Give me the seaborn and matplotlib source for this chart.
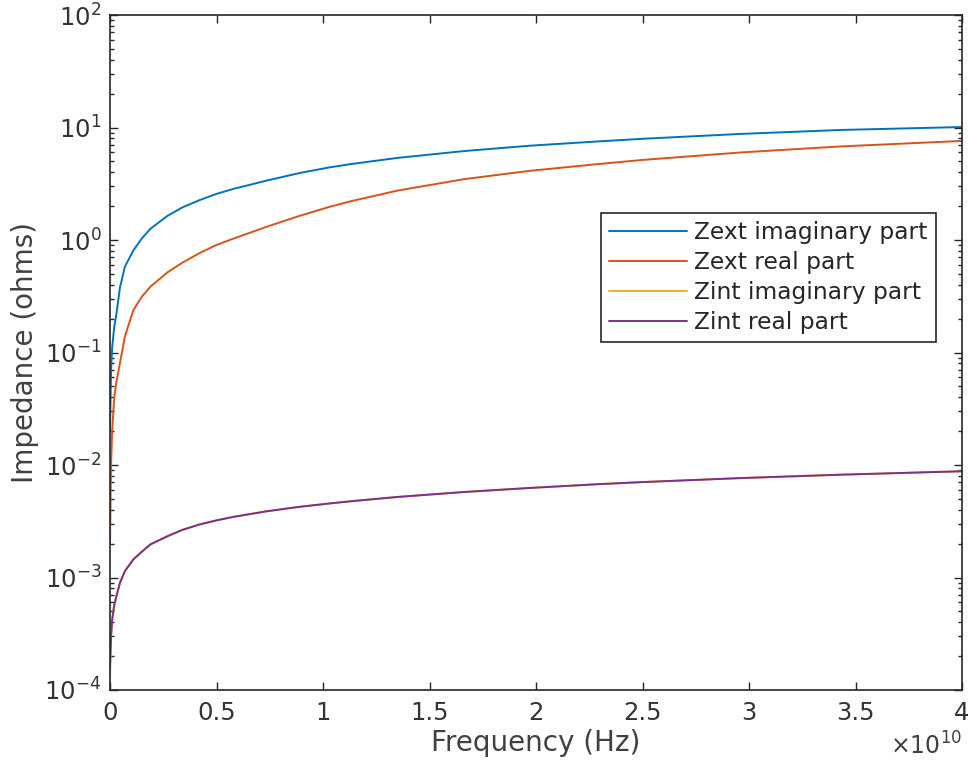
import matplotlib
matplotlib.use("Agg")
import matplotlib.pyplot as plt
import seaborn as sns
import numpy as np
from matplotlib.ticker import FixedLocator, NullFormatter, FuncFormatter

# frequency in units of 1e10 Hz
freq = np.array([0, 0.005, 0.01, 0.02, 0.03, 0.047, 0.07, 0.11, 0.15, 0.19,
                 0.27, 0.34, 0.42, 0.5, 0.58, 0.74, 0.89, 1.03, 1.13, 1.35,
                 1.66, 1.97, 2.29, 2.5, 2.96, 3.43, 4.0])

zext_imag = [0.02, 0.07, 0.11, 0.17, 0.22, 0.38, 0.58, 0.81, 1.035, 1.26,
             1.64, 1.95, 2.26, 2.57, 2.85, 3.39, 3.94, 4.42, 4.73, 5.37,
             6.17, 6.89, 7.52, 7.94, 8.77, 9.51, 10.1]

zext_real = [0.002, 0.01, 0.02, 0.04, 0.055, 0.081, 0.139, 0.239, 0.314, 0.385,
             0.516, 0.63, 0.764, 0.904, 1.03, 1.32, 1.64, 1.97, 2.21, 2.75,
             3.47, 4.12, 4.73, 5.15, 6.0, 6.79, 7.6]

zint_imag = [1.3e-4, 3.0e-4, 4.2e-4, 5.7e-4, 6.8e-4, 9.0e-4, 1.14e-3, 1.45e-3, 1.7e-3, 1.97e-3,
             2.33e-3, 2.65e-3, 2.96e-3, 3.22e-3, 3.46e-3, 3.89e-3, 4.25e-3, 4.55e-3, 4.76e-3, 5.2e-3,
             5.75e-3, 6.25e-3, 6.75e-3, 7.05e-3, 7.65e-3, 8.2e-3, 8.8e-3]

zint_real = [1.6e-4, 3.0e-4, 4.2e-4, 5.7e-4, 6.8e-4, 9.0e-4, 1.14e-3, 1.45e-3, 1.7e-3, 1.97e-3,
             2.33e-3, 2.65e-3, 2.96e-3, 3.22e-3, 3.46e-3, 3.89e-3, 4.25e-3, 4.55e-3, 4.76e-3, 5.2e-3,
             5.75e-3, 6.25e-3, 6.75e-3, 7.05e-3, 7.65e-3, 8.2e-3, 8.8e-3]

labels = ["Zext imaginary part", "Zext real part", "Zint imaginary part", "Zint real part"]
colors = ["#0072BD", "#D95319", "#EDB120", "#7E2F8E"]
decades = [-4, -3, -2, -1, 0, 1, 2]

sns.set_style("ticks")
plt.rcParams["font.family"] = ["DejaVu Sans"]

fig = plt.figure(figsize=(9.7, 7.7), dpi=100)
ax = fig.add_axes([0.1134, 0.1039, 0.8784, 0.8766])

hz = freq * 1e10
for vals, lab, col in zip([zext_imag, zext_real, zint_imag, zint_real], labels, colors):
    sns.lineplot(x=hz, y=vals, ax=ax, color=col, linewidth=1.4, label=lab,
                 sort=False, estimator=None)

ax.set_yscale("log")
ax.set_ylim(1e-4, 1e2)
ax.set_xlim(0, 4e10)
ax.set_xticks(np.arange(0, 4.01e10, 0.5e10))
ax.xaxis.set_major_formatter(FuncFormatter(lambda v, p: f"{v / 1e10:g}"))
ax.set_yticks([10.0 ** d for d in decades])
ax.set_yticklabels([rf"$10^{{{d}}}$" for d in decades])
minor = [m * 10.0 ** d for d in decades[:-1] for m in range(2, 10)]
ax.yaxis.set_minor_locator(FixedLocator(minor))
ax.yaxis.set_minor_formatter(NullFormatter())

txt = "#404040"
ax.text(1.0, -0.063, r"$\times10^{10}$", transform=ax.transAxes, ha="right", va="top",
        fontsize=17, color=txt)

for s in ax.spines.values():
    s.set_visible(True)
    s.set_color("#262626")
    s.set_linewidth(1.2)
ax.tick_params(which="both", direction="in", top=True, right=True, colors="#262626",
               labelcolor="#333333", labelsize=17.5)
ax.tick_params(which="major", length=6, width=1.0)
ax.tick_params(which="minor", length=3, width=1.0)
ax.tick_params(axis="x", pad=8)
ax.tick_params(axis="y", pad=6)

ax.set_xlabel("Frequency (Hz)", fontsize=20, color=txt, labelpad=3)
ax.set_ylabel("Impedance (ohms)", fontsize=20, color=txt, labelpad=4)

leg = ax.legend(loc="upper right", bbox_to_anchor=(0.969, 0.707), fontsize=16.8,
                frameon=True, fancybox=False, framealpha=1, edgecolor="#262626",
                borderpad=0.35, labelspacing=0.3, handlelength=3.35, handletextpad=0.3,
                borderaxespad=0)
leg.get_frame().set_linewidth(1.2)
for t in leg.get_texts():
    t.set_color("#262626")

fig.savefig("out.png", dpi=100)
